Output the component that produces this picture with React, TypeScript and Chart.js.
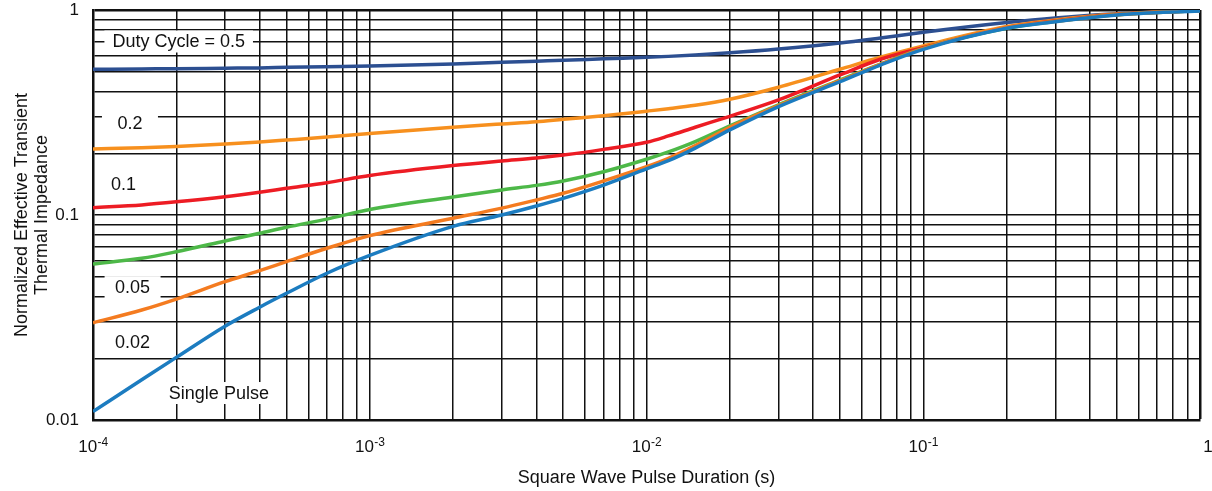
import React, { useEffect, useRef } from "react";
import { Chart, registerables } from "chart.js";

Chart.register(...registerables);

// Pulse durations (s) at which the curves were read
const pulseDurations = [
  1e-4, 1.5e-4, 2e-4, 3e-4, 4e-4, 5e-4, 7e-4, 1e-3, 2e-3, 3e-3, 4e-3, 5e-3, 7e-3, 1e-2,
  1.2e-2, 1.5e-2, 2e-2, 3e-2, 5e-2, 7e-2, 1e-1, 2e-1, 3e-1, 5e-1, 1,
];

const duty05 = [
  0.514, 0.516, 0.517, 0.52, 0.522, 0.525, 0.529, 0.533, 0.545, 0.556, 0.563, 0.568, 0.578, 0.588,
  0.594, 0.603, 0.618, 0.645, 0.69, 0.73, 0.778, 0.868, 0.915, 0.96, 0.995,
];
const duty02 = [
  0.21, 0.213, 0.216, 0.222, 0.227, 0.232, 0.24, 0.25, 0.268, 0.278, 0.285, 0.293, 0.305, 0.321,
  0.33, 0.343, 0.367, 0.42, 0.514, 0.588, 0.668, 0.83, 0.895, 0.955, 0.995,
];
const duty01 = [
  0.1086, 0.112, 0.1159, 0.1228, 0.1292, 0.1349, 0.1437, 0.1559, 0.1743, 0.1834, 0.1895, 0.196, 0.209, 0.2263,
  0.243, 0.268, 0.303, 0.364, 0.482, 0.575, 0.655, 0.82, 0.885, 0.95, 0.995,
];
const duty005 = [
  0.0577, 0.0615, 0.0662, 0.0747, 0.0814, 0.0871, 0.0955, 0.1063, 0.1224, 0.1325, 0.1395, 0.1466, 0.1626, 0.187,
  0.203, 0.228, 0.272, 0.345, 0.455, 0.545, 0.65, 0.815, 0.88, 0.948, 0.995,
];
const duty002 = [
  0.0298, 0.0344, 0.0389, 0.0473, 0.0535, 0.0592, 0.0688, 0.0793, 0.0964, 0.108, 0.1184, 0.1276, 0.1466, 0.172,
  0.189, 0.218, 0.268, 0.342, 0.452, 0.543, 0.648, 0.822, 0.88, 0.948, 0.995,
];
const singlePulse = [
  0.011, 0.0157, 0.0202, 0.0287, 0.0355, 0.0415, 0.052, 0.0635, 0.088, 0.1, 0.1106, 0.1206, 0.14, 0.168,
  0.184, 0.212, 0.26, 0.338, 0.447, 0.539, 0.643, 0.814, 0.877, 0.945, 0.99,
];

const seriesNames = ["0.5", "0.2", "0.1", "0.05", "0.02", "Single Pulse"];
const seriesValues = [duty05, duty02, duty01, duty005, duty002, singlePulse];
const seriesColors = ["#2c4f91", "#f7901e", "#ed1c24", "#4db848", "#f47b20", "#1c7cc0"];
const seriesOrder = [5, 4, 3, 2, 1, 0];

// Axis decades and tick labels
const xDecades = [-4, -3, -2, -1];
const yDecades = [-2, -1];
const xLabelExponents = [-4, -3, -2, -1, 0];
const yTickLabels: Record<string, string> = { "-2": "0.01", "-1": "0.1", "0": "1" };

// In-plot curve labels (data coordinates)
const labelTexts = ["Duty Cycle = 0.5", "0.2", "0.1", "0.05", "0.02", "Single Pulse"];
const labelX = [2.04e-4, 1.36e-4, 1.29e-4, 1.39e-4, 1.39e-4, 2.85e-4];
const labelY = [0.702, 0.281, 0.1417, 0.0445, 0.024, 0.01354];

const FONT = "'Liberation Sans', Arial, Helvetica, sans-serif";

function decadeTicks(decades: number[]) {
  const vals: number[] = [];
  decades.forEach((e) => {
    for (let m = 1; m <= 9; m++) vals.push(Number((m * Math.pow(10, e)).toPrecision(6)));
  });
  vals.push(Math.pow(10, decades[decades.length - 1] + 1));
  return vals;
}

function decadeOf(v: number): string | null {
  const l = Math.log10(v);
  const r = Math.round(l);
  return Math.abs(l - r) < 1e-6 ? String(r) : null;
}

const labelPlugin = {
  id: "curveLabels",
  beforeDatasetsDraw(chart: any) {
    const { ctx, scales } = chart;
    ctx.save();
    ctx.font = `18px ${FONT}`;
    ctx.textAlign = "center";
    ctx.textBaseline = "middle";
    labelTexts.forEach((t, i) => {
      const px = scales.x.getPixelForValue(labelX[i]);
      const py = scales.y.getPixelForValue(labelY[i]);
      const w = Math.max(ctx.measureText(t).width + 16, 56);
      const h = 22;
      ctx.fillStyle = "#ffffff";
      ctx.fillRect(px - w / 2, py - h / 2, w, h);
      ctx.fillStyle = "#111111";
      ctx.fillText(t, px, py + 1);
    });
    ctx.restore();
  },
};

// x tick labels as 10 with a raised exponent
const powerLabelPlugin = {
  id: "powerLabels",
  afterDraw(chart: any) {
    const { ctx, scales } = chart;
    const sx = scales.x;
    const baseY = sx.top + 32;
    ctx.save();
    ctx.fillStyle = "#111111";
    ctx.textBaseline = "alphabetic";
    ctx.textAlign = "left";
    xLabelExponents.forEach((e) => {
      const px = sx.getPixelForValue(Math.pow(10, e));
      if (e === 0) {
        ctx.font = `17px ${FONT}`;
        const w = ctx.measureText("1").width;
        ctx.fillText("1", px + 8 - w / 2, baseY);
        return;
      }
      const expText = String(e);
      ctx.font = `17px ${FONT}`;
      const wb = ctx.measureText("10").width;
      ctx.font = `12px ${FONT}`;
      const we = ctx.measureText(expText).width;
      const start = px - (wb + we) / 2;
      ctx.font = `17px ${FONT}`;
      ctx.fillText("10", start, baseY);
      ctx.font = `12px ${FONT}`;
      ctx.fillText(expText, start + wb + 0.5, baseY - 6);
    });
    ctx.restore();
  },
};

export default function App() {
  const canvasRef = useRef<HTMLCanvasElement | null>(null);

  useEffect(() => {
    if (!canvasRef.current) return;
    const xTicks = decadeTicks(xDecades);
    const yTicks = decadeTicks(yDecades);
    const chart = new Chart(canvasRef.current, {
      type: "line",
      data: {
        datasets: seriesNames.map((name, i) => ({
          label: name,
          data: pulseDurations.map((x, j) => ({ x, y: seriesValues[i][j] })),
          borderColor: seriesColors[i],
          backgroundColor: seriesColors[i],
          borderWidth: 3.5,
          pointRadius: 0,
          cubicInterpolationMode: "monotone" as const,
          fill: false,
          order: seriesOrder[i],
        })),
      },
      options: {
        responsive: false,
        animation: false,
        layout: { padding: { top: 10, right: 12, left: 0, bottom: 0 } },
        plugins: {
          legend: { display: false },
          tooltip: { enabled: false },
        },
        scales: {
          x: {
            type: "logarithmic",
            min: 1e-4,
            max: 1,
            afterBuildTicks: (scale: any) => {
              scale.ticks = xTicks.map((v) => ({ value: v }));
            },
            afterFit: (scale: any) => {
              scale.height = 71;
              scale.paddingLeft = 0;
              scale.paddingRight = 0;
            },
            ticks: {
              display: false,
              autoSkip: false,
              maxRotation: 0,
              minRotation: 0,
            },
            grid: {
              color: "#111111",
              lineWidth: (c: any) => (c.tick && c.tick.value === 1 ? 2.5 : 1.5),
              drawTicks: false,
            },
            border: { color: "#111111", width: 2.5 },
            title: {
              display: true,
              text: "Square Wave Pulse Duration (s)",
              color: "#111111",
              font: { family: FONT, size: 18, lineHeight: 1.1 },
              padding: { top: 0, bottom: 3 },
            },
          },
          y: {
            type: "logarithmic",
            min: 0.01,
            max: 1,
            afterBuildTicks: (scale: any) => {
              scale.ticks = yTicks.map((v) => ({ value: v }));
            },
            afterFit: (scale: any) => {
              scale.width = 93;
              scale.paddingTop = 0;
              scale.paddingBottom = 0;
            },
            ticks: {
              autoSkip: false,
              padding: 14,
              color: "#111111",
              font: { family: FONT, size: 17 },
              callback: (v: any) => {
                const d = decadeOf(Number(v));
                return d !== null ? yTickLabels[d] ?? "" : "";
              },
            },
            grid: {
              color: "#111111",
              lineWidth: (c: any) => (c.tick && c.tick.value === 1 ? 2.5 : 1.5),
              drawTicks: false,
            },
            border: { color: "#111111", width: 2.5 },
            title: {
              display: true,
              text: ["Normalized Effective Transient", "Thermal Impedance"],
              color: "#111111",
              font: { family: FONT, size: 18, lineHeight: 1.1 },
              padding: { top: 12, bottom: 0 },
            },
          },
        },
      },
      plugins: [labelPlugin, powerLabelPlugin],
    });
    return () => chart.destroy();
  }, []);

  return (
    <div style={{ position: "absolute", left: 0, top: 0, width: 1212, height: 491, background: "#fff" }}>
      <canvas ref={canvasRef} width={1212} height={491} style={{ width: 1212, height: 491, display: "block" }} />
    </div>
  );
}
